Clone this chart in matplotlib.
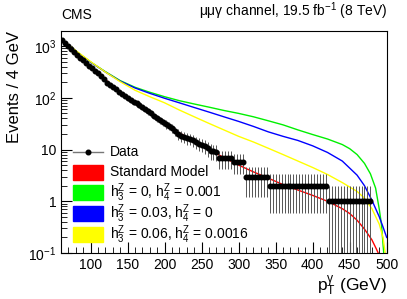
import numpy as np
import matplotlib
matplotlib.use("Agg")
import matplotlib.pyplot as plt
from matplotlib.patches import Rectangle
from matplotlib.ticker import FixedLocator, FixedFormatter, MultipleLocator

plt.rcParams['font.family'] = ['Liberation Sans', 'DejaVu Sans']
plt.rcParams['mathtext.fontset'] = 'custom'
plt.rcParams['mathtext.rm'] = 'Liberation Sans'
plt.rcParams['mathtext.it'] = 'Liberation Sans'
plt.rcParams['mathtext.default'] = 'regular'

# data, 4 GeV bins from 60 to 272 GeV
fine_lo = np.arange(60, 272, 4)
fine_val = [1290, 1130, 990, 870, 770, 680, 600, 530, 470, 420,
            375, 335, 300, 265, 235, 190, 175, 160, 148, 128,
            118, 108, 98, 90, 83, 78, 72, 66, 60, 55,
            50, 45, 41, 37, 34, 31, 29, 26, 23, 20,
            18.5, 17.5, 16.5, 16, 15, 14, 13, 12.5, 11.8, 10.5,
            9.5, 9.2, 9.0]
# wider bins at high pT, shown per 4 GeV
wide_edges = [272, 292, 308, 340, 420, 480]
wide_val = [6.9, 5.7, 2.9, 2.0, 1.0]

# theory curves
pt_sm = [60, 80, 100, 120, 140, 160, 180, 200, 220, 240, 260, 280, 300, 320,
         340, 360, 380, 400, 420, 440, 450, 460, 470, 480, 486, 490]
sm = [1300, 720, 400, 225, 128, 80, 50, 32, 21, 14.5, 10, 7.0, 5.0, 3.7,
      2.8, 2.1, 1.65, 1.3, 1.0, 0.72, 0.58, 0.43, 0.29, 0.18, 0.12, 0.09]

pt_g = [60, 80, 100, 120, 140, 160, 180, 200, 220, 240, 260, 280, 300, 320,
        340, 360, 380, 400, 420, 440, 450, 460, 470, 478, 485, 490, 493, 496]
green = [1350, 800, 490, 320, 215, 160, 128, 105, 88, 76, 66, 57, 50, 43,
         36, 30, 24, 19.5, 16, 12.5, 10.4, 8, 5.4, 3.4, 1.8, 0.7, 0.35, 0.1]

pt_b = [60, 80, 100, 120, 140, 160, 180, 200, 220, 240, 260, 280, 300, 320,
        340, 360, 380, 400, 420, 440, 460, 470, 480, 490, 495, 500]
blue = [1350, 800, 490, 315, 210, 155, 122, 98, 80, 65, 53, 43, 35, 28,
        22, 18, 15, 11.8, 8.8, 6, 3.2, 2.0, 1.05, 0.5, 0.32, 0.2]

pt_y = [60, 80, 100, 120, 140, 160, 180, 200, 220, 240, 260, 280, 300, 320,
        340, 360, 380, 400, 420, 440, 460, 470, 480, 490, 495, 498]
yellow = [1380, 820, 500, 315, 205, 140, 105, 80, 58, 43, 32, 24, 18, 14,
          10.6, 8, 6, 4.5, 3.3, 2.3, 1.55, 1.15, 0.72, 0.36, 0.2, 0.1]

leg_labels = ['Standard Model',
              r'h$_{3}^{Z}$ = 0, h$_{4}^{Z}$ = 0.001',
              r'h$_{3}^{Z}$ = 0.03, h$_{4}^{Z}$ = 0',
              r'h$_{3}^{Z}$ = 0.06, h$_{4}^{Z}$ = 0.0016']
leg_colors = ['#ff0000', '#00ff00', '#0000ff', '#ffff00']

# expand wide bins to 4 GeV points
x = list(fine_lo + 2)
y = list(fine_val)
for i in range(len(wide_val)):
    for lo in range(wide_edges[i], wide_edges[i + 1], 4):
        x.append(lo + 2)
        y.append(wide_val[i])
x = np.array(x, dtype=float)
y = np.array(y, dtype=float)
yerr = np.sqrt(y)
ylow = np.minimum(yerr, y - 1e-3)

fig = plt.figure(figsize=(4.07, 2.99), dpi=100)
ax = fig.add_axes([0.1499, 0.1538, 0.8002, 0.7441])

ax.plot(pt_sm, sm, color='#ff0000', lw=1.0, zorder=2)
ax.plot(pt_g, green, color='#00f000', lw=1.0, zorder=2)
ax.plot(pt_b, blue, color='#0000ff', lw=1.0, zorder=2)
ax.plot(pt_y, yellow, color='#ffff00', lw=1.0, zorder=2)

ax.errorbar(x, y, yerr=[ylow, yerr], fmt='none', ecolor='#555555',
            elinewidth=0.7, capsize=0, zorder=3)
ax.plot(x, y, 'o', color='black', ms=3.3, zorder=4)

ax.set_yscale('log')
ax.set_xlim(60, 500)
ax.set_ylim(0.1, 2000)

ax.xaxis.set_major_locator(FixedLocator([100, 150, 200, 250, 300, 350, 400, 450, 500]))
ax.xaxis.set_minor_locator(MultipleLocator(10))
ax.yaxis.set_major_locator(FixedLocator([0.1, 1, 10, 100, 1000]))
ax.yaxis.set_major_formatter(FixedFormatter(['$10^{-1}$', '1', '10', '$10^{2}$', '$10^{3}$']))
ax.tick_params(which='both', direction='in', top=False, right=False, labelsize=10)
ax.tick_params(which='major', length=8, width=0.8)
ax.tick_params(which='minor', length=4, width=0.6)
for s in ax.spines.values():
    s.set_linewidth(0.8)

ax.set_ylabel('Events / 4 GeV', fontsize=12, loc='top')
ax.set_xlabel(r'p$_{T}^{\gamma}$ (GeV)', fontsize=12.5, loc='right', labelpad=1)

fig.text(0.150, 0.925, 'CMS', fontsize=10, ha='left', va='bottom')
fig.text(0.951, 0.925, r'μμγ channel, 19.5 fb$^{-1}$ (8 TeV)', fontsize=10,
         ha='right', va='bottom')

# legend drawn by hand (axes fraction coordinates)
x0, x1, xt = 0.037, 0.129, 0.150
rows = [0.452, 0.362, 0.272, 0.178, 0.083]
tr = ax.transAxes
ax.plot([x0, x1], [rows[0], rows[0]], color='#777777', lw=1.0, transform=tr, zorder=5)
ax.plot([(x0 + x1) / 2], [rows[0]], 'o', color='black', ms=3.3, transform=tr, zorder=6)
ax.text(xt, rows[0], 'Data', fontsize=10, va='center', ha='left', transform=tr)
for yc, lab, col in zip(rows[1:], leg_labels, leg_colors):
    ax.add_patch(Rectangle((x0, yc - 0.033), x1 - x0, 0.066, facecolor=col,
                           edgecolor=col, transform=tr, zorder=5))
    ax.text(xt, yc, lab, fontsize=10, va='center', ha='left', transform=tr)

fig.savefig('out.png', dpi=100)
